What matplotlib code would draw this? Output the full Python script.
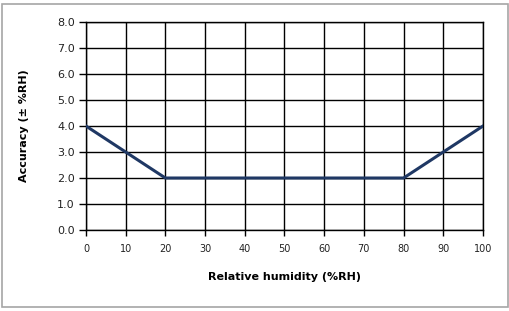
import matplotlib.pyplot as plt
from matplotlib.patches import Rectangle

humidity = [0, 10, 20, 80, 90, 100]
accuracy = [4.0, 3.0, 2.0, 2.0, 3.0, 4.0]
x_ticks = list(range(0, 101, 10))
y_ticks = [i * 1.0 for i in range(9)]

plt.rcParams['font.family'] = ['DejaVu Sans']

fig = plt.figure(figsize=(5.1, 3.11), dpi=100)
ax = fig.add_axes([0.1686, 0.2605, 0.7784, 0.6685])

# grey frame around the whole chart
fig.patches.append(Rectangle((0.004, 0.013), 0.992, 0.975, transform=fig.transFigure,
                             fill=False, edgecolor='#a6a6a6', linewidth=1.2))

ax.plot(humidity, accuracy, color='#1f3864', linewidth=2.2, zorder=3)

ax.set_xlim(0, 100)
ax.set_ylim(0, 8)
ax.set_xticks(x_ticks)
ax.set_yticks(y_ticks)
ax.set_yticklabels([f'{v:.1f}' for v in y_ticks])
ax.grid(True, color='black', linewidth=1)
for s in ax.spines.values():
    s.set_color('black')
    s.set_linewidth(1)

ax.tick_params(axis='x', direction='out', length=4, width=1, pad=6, labelsize=7, labelcolor='#222222')
ax.tick_params(axis='y', direction='out', length=5, width=1, pad=3, labelsize=8, labelcolor='#222222')

ax.set_xlabel('Relative humidity (%RH)', fontsize=8, fontweight='bold', labelpad=13)
ax.set_ylabel('Accuracy (± %RH)', fontsize=8, fontweight='bold', labelpad=20)

fig.savefig('out.png', dpi=100)
